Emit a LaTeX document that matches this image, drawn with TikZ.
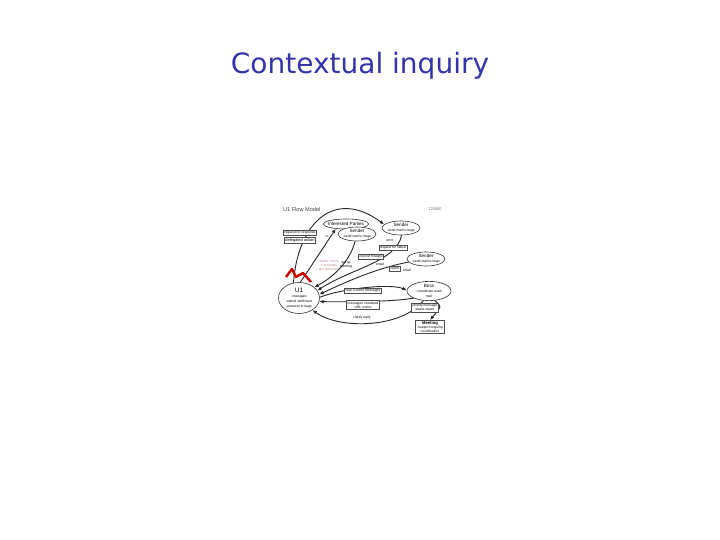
\documentclass[tikz,border=0pt]{standalone}
\usepackage{fontspec}
\setmainfont{Liberation Sans}
\newfontfamily\titlefont{DejaVu Sans}
\usepackage{tikz}
\usetikzlibrary{positioning}
\usetikzlibrary{arrows,arrows.meta,shapes}
\definecolor{titleblue}{RGB}{51,51,170}
\newcommand{\flowtext}{\fontsize{2.3}{2.6}\selectfont}
\newcommand{\flowsmall}{\fontsize{1.7}{2.0}\selectfont}
\tikzstyle{party}=[ellipse,draw=black!80,fill=white,line width=0.3pt,inner xsep=-1pt,inner ysep=0pt,align=center,font=\flowtext]
\tikzstyle{flowbox}=[draw=black!70,fill=white,line width=0.25pt,inner sep=0.5pt,align=center,font=\flowsmall]
\tikzstyle{note}=[inner sep=0pt,align=center,font=\flowsmall]
\tikzstyle{edge} = [draw,line width=0.45pt,black!85,-{Latex[length=2.2pt,width=1.8pt]}]

\begin{document}
\begin{tikzpicture}[x=0.5pt,y=-0.5pt]
    \useasboundingbox (0,0) rectangle (720,540);

    % title of the slide
    \node[font=\titlefont\fontsize{14}{17}\selectfont, text=titleblue] (title) at (360,66) {Contextual inquiry};

    % heading of the flow model
    \node[anchor=west, font=\fontsize{2.8}{3.1}\selectfont, text=black!75] (heading) at (276,210) {U1 Flow Model};
    \node[note, text=black!60, font=\fontsize{2}{2.3}\selectfont] (date) at (435,209) {12/4/00};

    % First we draw the parties
    \node[party, minimum width=20.5pt, minimum height=5pt] (ip) at (346,224) {Interested Parties};
    \foreach \pos/\name in {{(357,234)/sndA}, {(401,228)/sndB}, {(426,259)/sndC}}
        \node[party, minimum width=19pt, minimum height=7pt] (\name) at \pos {Sender\\{\flowsmall -send mail to bugs}};
    \node[party, minimum width=22pt, minimum height=8.5pt] (boss) at (429,291) {Boss\\{\flowsmall -coordinate team}\\{\flowsmall mail}};
    \node[party, minimum width=20.5pt, minimum height=15.5pt] (u1) at (299,298) {{\fontsize{3.2}{3.4}\selectfont U1}\\{\flowsmall -manages}\\{\flowsmall -attend staff meet}\\{\flowsmall -answers to bugs}};
    \node[flowbox, line width=0.4pt, inner xsep=1pt] (meet) at (430,327) {{\fontsize{2.1}{2.3}\selectfont\bfseries Meeting}\\-support ongoing\\coordination};

    % Connect parties with flows
    \path[edge] (u1.110) .. controls (298,222) and (335,188) .. (sndB.168);
    \path[edge] (u1.85) -- (ip.205);
    \path[edge] (sndA.255) .. controls (350,262) and (332,278) .. (u1.35);
    \path[edge] (sndB.275) .. controls (396,262) and (352,268) .. (u1.22);
    \path[edge] (sndC.190) .. controls (378,268) and (350,280) .. (u1.10);
    \path[edge] (u1.2) .. controls (340,289) and (390,283) .. (boss.178);
    \path[edge] (boss.205) .. controls (392,302) and (342,302) .. (u1.350);
    \path[edge] (boss.240) .. controls (402,328) and (340,330) .. (u1.318);
    \path[edge] (boss.300) .. controls (442,306) .. (meet.north);

    % breakdown
    \draw[red!80!black, line width=1.2pt, line join=round] (286,277) -- (292,269) -- (296,277) -- (303,273) -- (311,282);

    % labels on the flows
    \node[flowbox] (resp) at (300,233) {request for response};
    \node[flowbox, font=\fontsize{2}{2.3}\selectfont] (deleg) at (300,240) {delegated action};
    \node[note] (cc) at (327,237) {cc};
    \node[note] (err) at (390,241) {error};
    \node[flowbox] (status) at (393,248) {request for status};
    \node[flowbox] (notfwd) at (371,257) {req not forward};
    \node[note] (mailA) at (380,264) {email};
    \node[note] (setup) at (346,265) {set up\\meeting};
    \node[note, text=red!40!black!45] (lost) at (329,266) {doesn't know\\if message\\got delivered};
    \node[flowbox] (report) at (395,269) {report};
    \node[note] (mailB) at (407,270) {email};
    \node[flowbox] (task) at (363,291) {task Control messages};
    \node[flowbox] (unrel) at (363,305) {messages unrelated\\URL notice};
    \node[note] (clar) at (362,318) {clarify reply};
    \node[flowbox] (prio) at (425,308) {priority message\\status report};

\end{tikzpicture}
\end{document}
